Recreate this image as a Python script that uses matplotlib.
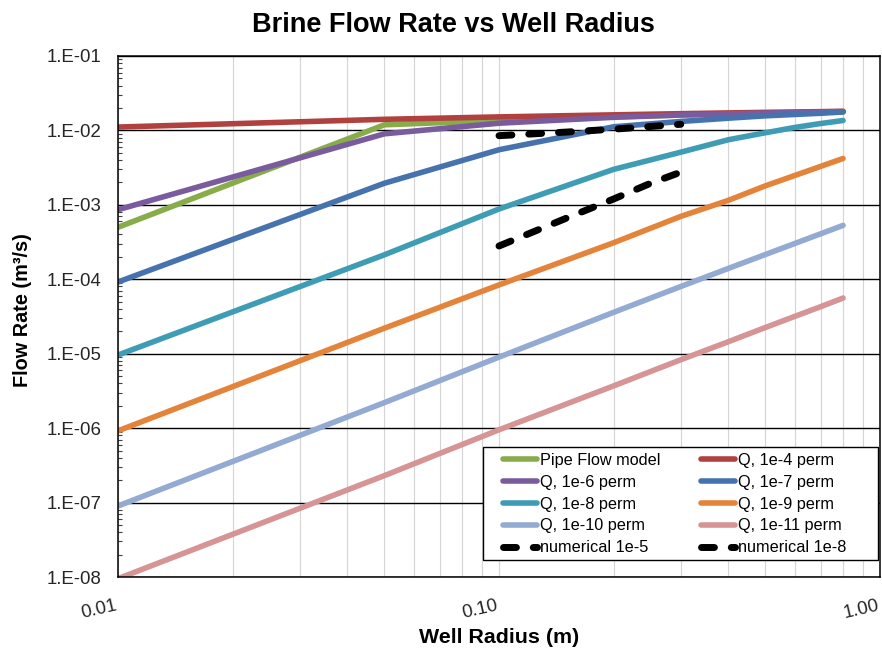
import numpy as np
import matplotlib
matplotlib.use("Agg")
import matplotlib.pyplot as plt
from matplotlib.lines import Line2D
from matplotlib.legend_handler import HandlerLine2D
from matplotlib.patches import Rectangle
from matplotlib.ticker import LogLocator, NullFormatter

plt.rcParams["font.family"] = ["Liberation Sans", "DejaVu Sans"]

# Well radius (m) at which the analytic flow rates were evaluated
radius = [0.01, 0.05, 0.1, 0.2, 0.3, 0.4, 0.5, 0.6, 0.7, 0.8]

# Flow rate (m^3/s) for each model / permeability
q_pipe = [5.0e-4, 0.0119, 0.0136, 0.0152, 0.0161, 0.0167, 0.0171, 0.0174, 0.0176, 0.0178]
q_1e4 = [0.0111, 0.0141, 0.0152, 0.0162, 0.0168, 0.0172, 0.0175, 0.0177, 0.0179, 0.0181]
q_1e6 = [8.6e-4, 0.0090, 0.0125, 0.0150, 0.0161, 0.0167, 0.0171, 0.0174, 0.0177, 0.0179]
q_1e7 = [9.2e-5, 1.95e-3, 5.5e-3, 0.0112, 0.0132, 0.0146, 0.0157, 0.0164, 0.0170, 0.0177]
q_1e8 = [9.6e-6, 2.13e-4, 8.8e-4, 3.0e-3, 5.1e-3, 7.5e-3, 9.3e-3, 0.0110, 0.0124, 0.0136]
q_1e9 = [9.2e-7, 2.2e-5, 8.4e-5, 3.1e-4, 7.0e-4, 1.15e-3, 1.8e-3, 2.5e-3, 3.3e-3, 4.2e-3]
q_1e10 = [9.0e-8, 2.2e-6, 9.0e-6, 3.6e-5, 8.0e-5, 1.4e-4, 2.15e-4, 3.05e-4, 4.1e-4, 5.3e-4]
q_1e11 = [9.5e-9, 2.3e-7, 9.5e-7, 3.7e-6, 8.3e-6, 1.45e-5, 2.25e-5, 3.2e-5, 4.3e-5, 5.6e-5]

# Numerical simulation results
num_radius = [0.1, 0.15, 0.2, 0.25, 0.3]
num_1e5 = [8.5e-3, 9.5e-3, 0.0104, 0.0113, 0.0121]
num_1e8 = [2.8e-4, 6.6e-4, 1.2e-3, 1.95e-3, 2.75e-3]

x_ticks = [0.01, 0.1, 1.0]
x_tick_labels = ["0.01", "0.10", "1.00"]
y_ticks = [1e-8, 1e-7, 1e-6, 1e-5, 1e-4, 1e-3, 1e-2, 1e-1]
y_tick_labels = ["1.E-08", "1.E-07", "1.E-06", "1.E-05",
                 "1.E-04", "1.E-03", "1.E-02", "1.E-01"]

W, H = 882, 653
fig = plt.figure(figsize=(W / 100, H / 100), dpi=100)
ax = fig.add_axes([118 / W, 1 - 577 / H, 762 / W, 521 / H])
ax.set_xscale("log")
ax.set_yscale("log")

solid = dict(lw=4.0, solid_capstyle="round", solid_joinstyle="round")
l_pipe, = ax.plot(radius, q_pipe, color="#88AC4A", label="Pipe Flow model", **solid)
l_1e4, = ax.plot(radius, q_1e4, color="#B0413E", label="Q, 1e-4 perm", **solid)
l_1e6, = ax.plot(radius, q_1e6, color="#7A5C9E", label="Q, 1e-6 perm", **solid)
l_1e7, = ax.plot(radius, q_1e7, color="#4673AD", label="Q, 1e-7 perm", **solid)
l_1e8, = ax.plot(radius, q_1e8, color="#3E9DB5", label="Q, 1e-8 perm", **solid)
l_1e9, = ax.plot(radius, q_1e9, color="#E4843A", label="Q, 1e-9 perm", **solid)
l_1e10, = ax.plot(radius, q_1e10, color="#93AAD2", label="Q, 1e-10 perm", **solid)
l_1e11, = ax.plot(radius, q_1e11, color="#D69495", label="Q, 1e-11 perm", **solid)

dashed = dict(lw=5.0, color="black", dashes=(1.86, 2.43),
              dash_capstyle="round", dash_joinstyle="round")
l_n5, = ax.plot(num_radius, num_1e5, label="numerical 1e-5", **dashed)
l_n8, = ax.plot(num_radius, num_1e8, label="numerical 1e-8", **dashed)

ax.set_xlim(0.01, 1.0)
ax.set_ylim(1e-8, 1e-1)

ax.set_xticks(x_ticks)
ax.set_xticklabels(x_tick_labels)
ax.set_yticks(y_ticks)
ax.set_yticklabels(y_tick_labels)
ax.xaxis.set_minor_locator(LogLocator(base=10, subs=np.arange(2, 10)))
ax.yaxis.set_minor_locator(LogLocator(base=10, subs=np.arange(2, 10)))
ax.xaxis.set_minor_formatter(NullFormatter())
ax.yaxis.set_minor_formatter(NullFormatter())

ax.tick_params(axis="both", which="major", length=0, labelsize=13.4,
               labelcolor="#262626")
ax.tick_params(axis="y", which="major", pad=11.7)
ax.tick_params(axis="x", which="major", pad=23.8)
ax.tick_params(axis="x", which="minor", length=0)
ax.tick_params(axis="y", which="minor", direction="in", length=3.2,
               width=0.8, color="#404040", left=True, right=False)
# slanted radius labels, pinned at their right baseline end
for lab in ax.get_xticklabels():
    lab.set_rotation(13)
    lab.set_ha("right")
    lab.set_va("baseline")
    lab.set_rotation_mode("anchor")

ax.set_axisbelow(True)
ax.grid(True, which="major", axis="y", color="black", lw=1.0)
ax.grid(True, which="major", axis="x", color="#D4D4D4", lw=0.8)
ax.grid(True, which="minor", axis="x", color="#D4D4D4", lw=0.8)
for sp in ax.spines.values():
    sp.set_color("black")
    sp.set_linewidth(1.1)

fig.text(453.5 / W, 1 - 31.7 / H, "Brine Flow Rate vs Well Radius",
         ha="center", va="baseline", fontsize=19.5, fontweight="bold")
ax.set_xlabel("Well Radius (m)", fontsize=15.4, fontweight="bold")
ax.xaxis.set_label_coords(0.5, (577 - 628) / 521)
ax.set_ylabel("Flow Rate (m³/s)", fontsize=14.3, fontweight="bold")
ax.yaxis.set_label_coords((32 - 118) / 762, (577 - 310) / 521)


class InsetLineHandler(HandlerLine2D):
    """Legend line sample that starts part-way into the handle box."""

    def get_xdata(self, legend, xdescent, ydescent, width, height, fontsize):
        start = -xdescent + 0.3 * width
        return np.array([start, -xdescent + width]), np.array([start])


handles = [l_pipe, l_1e6, l_1e8, l_1e10, l_n5,
           l_1e4, l_1e7, l_1e9, l_1e11, l_n8]
labels = [h.get_label() for h in handles]

ax.add_patch(Rectangle((0.479, 0.0326), 0.5184, 0.2169, transform=ax.transAxes,
                       facecolor="white", edgecolor="black", lw=1.0,
                       zorder=4.5))
leg = ax.legend(handles, labels, ncol=2, loc="center left",
                bbox_to_anchor=(0.486, 0.140), frameon=False, fontsize=11.7,
                handlelength=3.0, handletextpad=0.16, columnspacing=1.62,
                labelspacing=0.42, borderpad=0, borderaxespad=0,
                handler_map={Line2D: InsetLineHandler()})
leg.set_zorder(5)

fig.savefig("out.png", dpi=100)
